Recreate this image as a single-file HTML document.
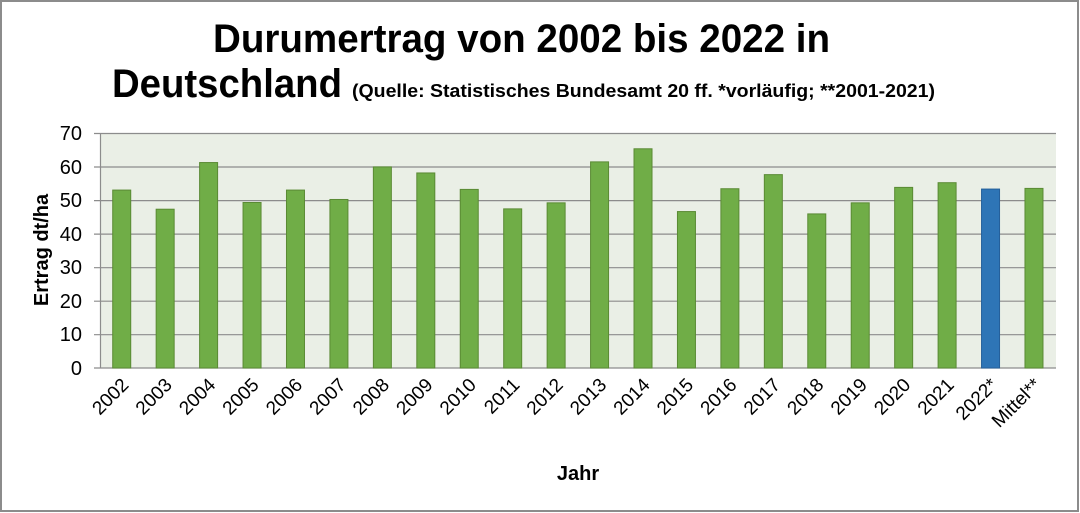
<!DOCTYPE html>
<html><head><meta charset="utf-8"><style>
html,body{margin:0;padding:0;background:#fff}
svg{display:block;font-family:"Liberation Sans",Arial,sans-serif}
</style></head><body>
<svg width="1080" height="513" viewBox="0 0 1080 513" xmlns="http://www.w3.org/2000/svg">
<rect x="1" y="1" width="1077" height="510" fill="#fff" stroke="#8c8c8c" stroke-width="2"/>
<text x="213" y="52" font-size="40" font-weight="bold" textLength="617" lengthAdjust="spacingAndGlyphs">Durumertrag von 2002 bis 2022 in</text>
<text x="112" y="97" font-size="40" font-weight="bold" textLength="230" lengthAdjust="spacingAndGlyphs">Deutschland</text>
<text x="352" y="97" font-size="18" font-weight="bold" textLength="583" lengthAdjust="spacingAndGlyphs">(Quelle: Statistisches Bundesamt 20 ff. *vorläufig; **2001-2021)</text>
<rect x="100" y="133.3" width="956" height="234.7" fill="#eaefe6"/>
<g stroke="#8c8c8c" stroke-width="1.2">
<line x1="94" y1="133.5" x2="1056" y2="133.5"/>
<line x1="94" y1="167" x2="1056" y2="167"/>
<line x1="94" y1="200.6" x2="1056" y2="200.6"/>
<line x1="94" y1="234.1" x2="1056" y2="234.1"/>
<line x1="94" y1="267.7" x2="1056" y2="267.7"/>
<line x1="94" y1="301.2" x2="1056" y2="301.2"/>
<line x1="94" y1="334.7" x2="1056" y2="334.7"/>
<line x1="94" y1="368" x2="1056" y2="368"/>
<line x1="100.5" y1="133" x2="100.5" y2="368"/>
</g>
<g font-size="20" text-anchor="end" fill="#000">
<text x="82" y="140">70</text><text x="82" y="174">60</text><text x="82" y="207">50</text><text x="82" y="241">40</text><text x="82" y="274">30</text><text x="82" y="308">20</text><text x="82" y="341">10</text><text x="82" y="375">0</text>
</g>
<text transform="translate(48,250) rotate(-90)" font-size="20" font-weight="bold" text-anchor="middle">Ertrag dt/ha</text>
<text x="578" y="480" font-size="20" font-weight="bold" text-anchor="middle">Jahr</text>
<g id="bars" stroke="#5a8a34" stroke-width="1"></g>
<g id="labels" font-size="19" text-anchor="end"></g>
<script>
var vals=[53,47.3,61.2,49.3,53,50.2,59.9,58.1,53.2,47.4,49.2,61.4,65.3,46.6,53.4,57.6,45.9,49.2,53.8,55.2,53.3,53.5];
var labs=["2002","2003","2004","2005","2006","2007","2008","2009","2010","2011","2012","2013","2014","2015","2016","2017","2018","2019","2020","2021","2022*","Mittel**"];
var ns="http://www.w3.org/2000/svg",b=document.getElementById("bars"),l=document.getElementById("labels");
var w=955.7/22;
for(var i=0;i<22;i++){var cx=100+w*(i+0.5);var h=vals[i]*3.357;
var r=document.createElementNS(ns,"rect");r.setAttribute("x",cx-9);r.setAttribute("y",368-h);r.setAttribute("width",18);r.setAttribute("height",h);
r.setAttribute("fill",i==20?"#2e75b6":"#70ad47");if(i==20)r.setAttribute("stroke","#25609a");b.appendChild(r);
var t=document.createElementNS(ns,"text");t.setAttribute("transform","translate("+(cx+8)+",386) rotate(-45)");t.textContent=labs[i];l.appendChild(t);}
</script>
</svg>
</body></html>
